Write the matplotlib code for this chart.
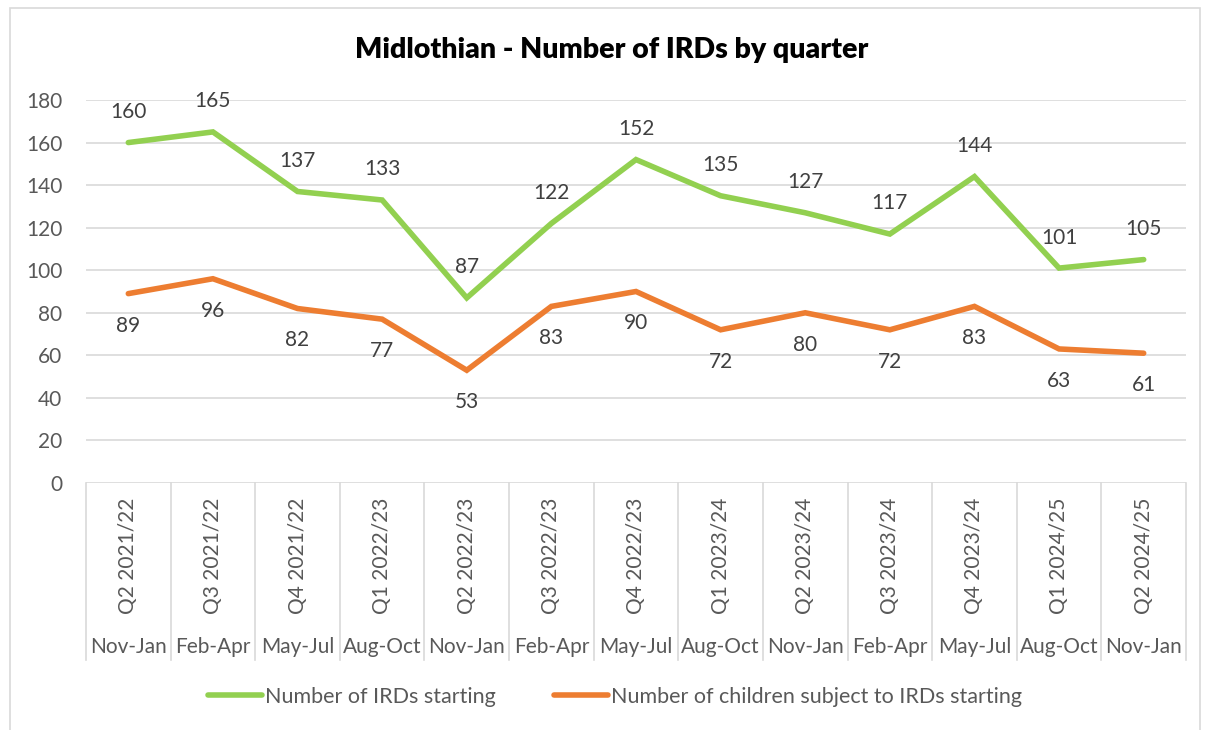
import matplotlib
matplotlib.use("Agg")
import matplotlib.pyplot as plt
from matplotlib.patches import Rectangle

quarters = ["Q2 2021/22", "Q3 2021/22", "Q4 2021/22", "Q1 2022/23", "Q2 2022/23",
            "Q3 2022/23", "Q4 2022/23", "Q1 2023/24", "Q2 2023/24", "Q3 2023/24",
            "Q4 2023/24", "Q1 2024/25", "Q2 2024/25"]
months = ["Nov-Jan", "Feb-Apr", "May-Jul", "Aug-Oct", "Nov-Jan", "Feb-Apr", "May-Jul",
          "Aug-Oct", "Nov-Jan", "Feb-Apr", "May-Jul", "Aug-Oct", "Nov-Jan"]
irds = [160, 165, 137, 133, 87, 122, 152, 135, 127, 117, 144, 101, 105]
children = [89, 96, 82, 77, 53, 83, 90, 72, 80, 72, 83, 63, 61]

GREEN = "#92D050"
ORANGE = "#ED7D31"
TXT = "#595959"
GRID = "#D9D9D9"
FS = 15

plt.rcParams["font.family"] = ["Lato", "DejaVu Sans"]

fig = plt.figure(figsize=(12.08, 7.30), dpi=100)
ax = fig.add_axes([86 / 1208, 1 - 483 / 730, 1100 / 1208, 383 / 730])

# outer chart border
fig.patches.append(Rectangle((10 / 1208, -0.01), 1190 / 1208, 1 - 8 / 730 + 0.01,
                             transform=fig.transFigure, fill=False,
                             edgecolor=GRID, linewidth=1.2))

x = list(range(len(quarters)))
ax.plot(x, irds, color=GREEN, linewidth=4, solid_capstyle="round",
        solid_joinstyle="miter", label="Number of IRDs starting")
ax.plot(x, children, color=ORANGE, linewidth=4, solid_capstyle="round",
        solid_joinstyle="miter", label="Number of children subject to IRDs starting")

for xi, v in zip(x, irds):
    ax.annotate(str(v), (xi, v), xytext=(0, 22), textcoords="offset points",
                ha="center", va="center", fontsize=FS, color="#404040")
for xi, v in zip(x, children):
    ax.annotate(str(v), (xi, v), xytext=(0, -23), textcoords="offset points",
                ha="center", va="center", fontsize=FS, color="#404040")

ax.set_xlim(-0.5, len(quarters) - 0.5)
ax.set_ylim(0, 180)
ax.set_yticks(range(0, 181, 20))
ax.set_xticks([])
ax.tick_params(axis="y", length=0, pad=17, labelsize=FS, labelcolor=TXT)
ax.grid(axis="y", color=GRID, linewidth=1.2)
ax.set_axisbelow(True)
for s in ax.spines.values():
    s.set_visible(False)

# two-level category axis
tr = ax.get_xaxis_transform()
for b in range(len(quarters) + 1):
    ax.plot([b - 0.5, b - 0.5], [0, -0.462], transform=tr, color=GRID,
            linewidth=1.2, clip_on=False)
for xi, q, m in zip(x, quarters, months):
    ax.text(xi, -0.19, q, transform=tr, rotation=90, ha="center", va="center",
            fontsize=FS, color=TXT)
    ax.text(xi, -0.428, m, transform=tr, ha="center", va="center",
            fontsize=FS, color=TXT)

fig.text(612 / 1208, 1 - 50 / 730, "Midlothian - Number of IRDs by quarter",
         ha="center", va="center", fontsize=20.5, fontweight="heavy", color="black")

fig.legend(loc="center", bbox_to_anchor=(615 / 1208, 1 - 697 / 730), ncol=2,
           frameon=False, fontsize=15.5, labelcolor=TXT, handlelength=2.5,
           handletextpad=0.15, columnspacing=2.7)

fig.savefig("out.png", dpi=100, facecolor="white")
